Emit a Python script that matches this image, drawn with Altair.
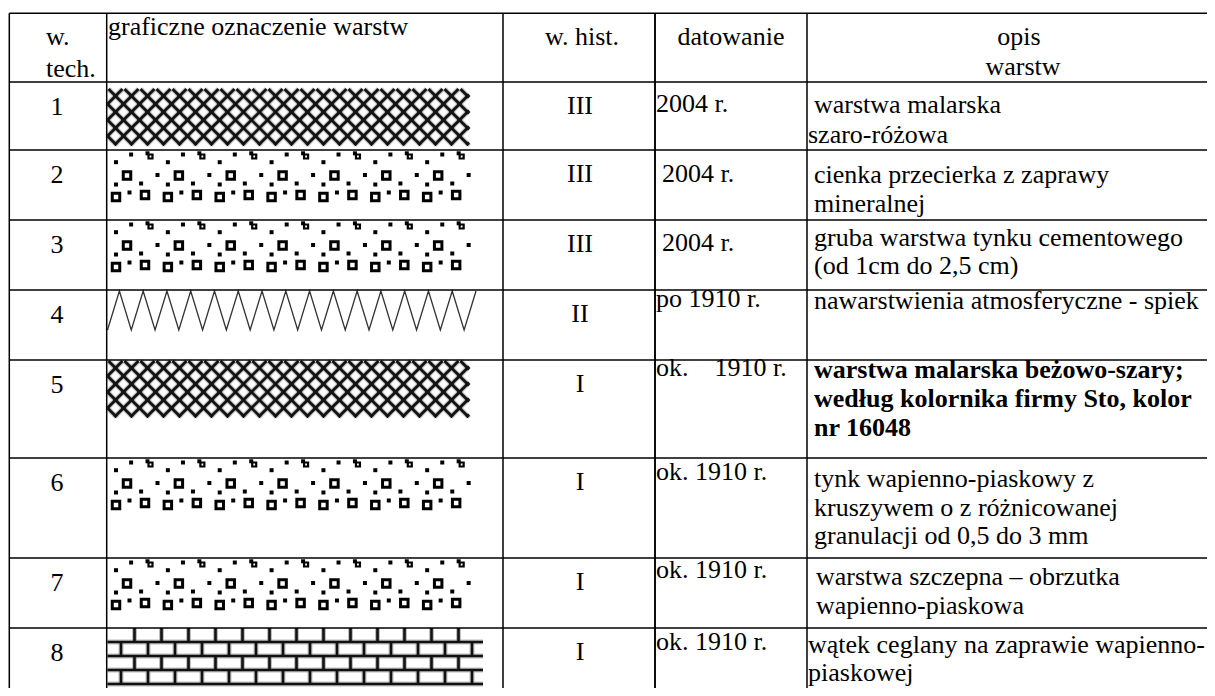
import altair as alt
import pandas as pd

# ---------------- content ----------------
header_tech = ["w.", "tech."]
header_graph = "graficzne oznaczenie warstw"
header_hist = "w. hist."
header_date = "datowanie"
header_desc = ["opis", "warstw"]

layer_no = ["1", "2", "3", "4", "5", "6", "7", "8"]
hist_period = ["III", "III", "III", "II", "I", "I", "I", "I"]
dating = ["2004 r.", "2004 r.", "2004 r.", "po 1910 r.",
          "ok.\u00a0\u00a0\u00a0 1910 r.", "ok. 1910 r.", "ok. 1910 r.", "ok. 1910 r."]
description = [
    ["warstwa malarska", "szaro-różowa"],
    ["cienka przecierka z zaprawy", "mineralnej"],
    ["gruba warstwa tynku cementowego", "(od 1cm do 2,5 cm)"],
    ["nawarstwienia atmosferyczne - spiek"],
    ["warstwa malarska beżowo-szary;", "według kolornika firmy Sto, kolor", "nr 16048"],
    ["tynk wapienno-piaskowy z", "kruszywem o z różnicowanej", "granulacji od 0,5 do 3 mm"],
    ["warstwa szczepna – obrzutka", "wapienno-piaskowa"],
    ["wątek ceglany na zaprawie wapienno-", "piaskowej"],
]
bold_rows = [4]  # zero-based index of row "5"
pattern = ["crosshatch", "pebbles", "pebbles", "zigzag",
           "crosshatch", "pebbles", "pebbles", "bricks"]

# ---------------- layout (page pixels) ----------------
X_MIN, X_MAX = 8, 1207
Y_MIN, Y_MAX = 8, 688
LEFT, C1, C2, C3, C4 = 9.3, 106.7, 503, 655, 807
TOP = 13.3
ROW_TOP = [82, 150, 220, 290, 360, 458, 558, 628]
FONT = "Liberation Serif, Times New Roman, serif"
FS = 26

NUM_X, HIST_X = 57, 580
DATE_X = [656, 662, 662, 656, 656, 656, 656, 656]
DATE_DY = [30, 32, 31, 17, 16, 22, 20, 22]
DESC_DY = [31, 33, 26, 19, 18, 29, 27, 25]
DESC_STEP = [30, 29, 28, 29, 29, 28.5, 28.5, 28]
DESC_X = [[814, 808], [814, 814], [814, 814], [814], [814, 814, 814],
          [814, 814, 814], [816, 816], [808, 808]]

# pattern boxes (x0, x1, y0, y1)
BOX = [(107.5, 469, 89, 145), (107.5, 471, 150.5, 210), (107.5, 471, 220.5, 280),
       (107.5, 476, 291, 330), (107.5, 469, 361, 417), (107.5, 471, 458.5, 518),
       (107.5, 471, 558.5, 618), (107.5, 483, 628, 684)]

xs = alt.Scale(domain=[X_MIN, X_MAX], nice=False, zero=False)
ys = alt.Scale(domain=[Y_MIN, Y_MAX], nice=False, zero=False, reverse=True)


def clip_segment(x0, y0, x1, y1, box):
    bx0, bx1, by0, by1 = box
    dx, dy = x1 - x0, y1 - y0
    t0, t1 = 0.0, 1.0
    for p, q in ((-dx, x0 - bx0), (dx, bx1 - x0), (-dy, y0 - by0), (dy, by1 - y0)):
        if p == 0:
            if q < 0:
                return None
        else:
            t = q / p
            if p < 0:
                t0 = max(t0, t)
            else:
                t1 = min(t1, t)
    if t0 >= t1:
        return None
    return (x0 + t0 * dx, y0 + t0 * dy, x0 + t1 * dx, y0 + t1 * dy)


# ---------------- table grid ----------------
rules = []
for y in [TOP] + ROW_TOP:
    rules.append(dict(x=LEFT, x2=X_MAX, y=y, y2=y, w=1.5, c="#000000"))
for x in [LEFT, C1, C2, C3, C4]:
    rules.append(dict(x=x, x2=x, y=TOP, y2=Y_MAX, w=1.9 if x == C3 else 1.5, c="#000000"))

# ---------------- patterns ----------------
soft, hard = [], []
dots, rings, smalls = [], [], []
zig = []

HATCH = 16.0
TILE = 51.86
PEBBLE_TILE = [  # (dx, dy, kind)
    (8.5, 11.7, "dot"), (23.6, 4, "dot"), (42, 5, "small"),
    (19.5, 25, "ring"), (50, 24.5, "dot"), (33.6, 33, "dot"), (8.5, 34, "dot"),
    (22, 42, "dot"), (37.5, 44.5, "ring"), (8.5, 46.5, "ring"),
]
BRICK = 27.0

for r, kind in enumerate(pattern):
    box = BOX[r]
    x0, x1, y0, y1 = box
    if kind == "crosshatch":
        cx, cy = x0 + 8, y0 + 7
        for k in range(-40, 60):
            for sgn in (1, -1):
                px = cx + HATCH * k
                seg = clip_segment(px - 200, cy - 200 * sgn, px + 200, cy + 200 * sgn, box)
                if seg:
                    d = dict(x=seg[0], y=seg[1], x2=seg[2], y2=seg[3])
                    soft.append(d)
                    hard.append(d)
    elif kind == "pebbles":
        i = 0
        while x0 + TILE * i < x1:
            for dx, dy, t in PEBBLE_TILE:
                px = x0 + TILE * i + dx
                if px > x1:
                    continue
                py = y0 + dy
                if t == "dot":
                    dots.append(dict(x=px, y=py))
                elif t == "ring":
                    rings.append(dict(x=px, y=py))
                else:
                    smalls.append(dict(x=px + 1.0, y=py + 1.0))
                    dots.append(dict(x=px - 2.0, y=py - 2.2))
            i += 1
    elif kind == "zigzag":
        n = 32
        step = (x1 - x0) / (n - 1)
        for j in range(n):
            zig.append(dict(x=x0 + step * j, y=y1 if j % 2 == 0 else y0, o=j))
    elif kind == "bricks":
        courses = 4
        h = (y1 - y0) / courses
        for c in range(1, courses + 1):
            yy = y0 + h * c
            d = dict(x=x0, y=yy, x2=x1, y2=yy)
            soft.append(d)
            hard.append(d)
        for c in range(courses):
            ya, yb = y0 + h * c, y0 + h * (c + 1)
            start = x0 + (BRICK if c % 2 == 0 else BRICK / 2)
            xx = start
            while xx < x1 - 1:
                d = dict(x=xx, y=ya, x2=xx, y2=yb)
                soft.append(d)
                hard.append(d)
                xx += BRICK

# ---------------- texts ----------------
texts = []
texts.append(dict(t=header_tech[0], x=46, y=45, a="left", b=0))
texts.append(dict(t=header_tech[1], x=46, y=76.7, a="left", b=0))
texts.append(dict(t=header_graph, x=108, y=35, a="left", b=0))
texts.append(dict(t=header_hist, x=582, y=45, a="center", b=0))
texts.append(dict(t=header_date, x=731, y=45, a="center", b=0))
texts.append(dict(t=header_desc[0], x=1019, y=45, a="center", b=0))
texts.append(dict(t=header_desc[1], x=1023, y=75, a="center", b=0))
for r in range(len(layer_no)):
    top = ROW_TOP[r]
    texts.append(dict(t=layer_no[r], x=NUM_X, y=top + 32.5, a="center", b=0))
    texts.append(dict(t=hist_period[r], x=HIST_X, y=top + 31.5, a="center", b=0))
    texts.append(dict(t=dating[r], x=DATE_X[r], y=top + DATE_DY[r], a="left", b=0))
    for i, line in enumerate(description[r]):
        texts.append(dict(t=line, x=DESC_X[r][i], y=top + DESC_DY[r] + DESC_STEP[r] * i,
                          a="left", b=1 if r in bold_rows else 0))

tdf = pd.DataFrame(texts)

X = lambda f="x": alt.X(f"{f}:Q", scale=xs, axis=None)
Y = lambda f="y": alt.Y(f"{f}:Q", scale=ys, axis=None)

grid = alt.Chart(pd.DataFrame(rules)).mark_rule().encode(
    x=X(), x2="x2:Q", y=Y(), y2="y2:Q",
    strokeWidth=alt.StrokeWidth("w:Q", scale=None),
    color=alt.Color("c:N", scale=None),
)

soft_l = alt.Chart(pd.DataFrame(soft)).mark_rule(color="#8a8a8a", strokeWidth=5.0, opacity=0.55).encode(
    x=X(), x2="x2:Q", y=Y(), y2="y2:Q")
hard_l = alt.Chart(pd.DataFrame(hard)).mark_rule(color="#111111", strokeWidth=2.6).encode(
    x=X(), x2="x2:Q", y=Y(), y2="y2:Q")

dot_l = alt.Chart(pd.DataFrame(dots)).mark_square(color="#000000", size=16, opacity=1).encode(
    x=X(), y=Y())
ring_l = alt.Chart(pd.DataFrame(rings)).mark_point(
    shape="square", filled=False, color="#000000", size=56, strokeWidth=3.0, opacity=1).encode(
    x=X(), y=Y())
small_l = alt.Chart(pd.DataFrame(smalls)).mark_point(
    shape="square", filled=False, color="#000000", size=16, strokeWidth=2.2, opacity=1).encode(
    x=X(), y=Y())
zig_l = alt.Chart(pd.DataFrame(zig)).mark_line(color="#333333", strokeWidth=1.3).encode(
    x=X(), y=Y(), order="o:Q")


def text_layer(align, bold):
    sub = tdf[(tdf["a"] == align) & (tdf["b"] == bold)]
    return alt.Chart(sub).mark_text(
        font=FONT, fontSize=FS, align=align, baseline="alphabetic",
        fontWeight="bold" if bold else "normal", color="#000000",
    ).encode(x=X(), y=Y(), text="t:N")


chart = alt.layer(
    soft_l, hard_l, zig_l, dot_l, ring_l, small_l, grid,
    text_layer("left", 0), text_layer("center", 0), text_layer("left", 1),
).properties(
    width=X_MAX - X_MIN, height=Y_MAX - Y_MIN, padding=0,
    autosize=alt.AutoSizeParams(type="none"), background="white",
).configure_view(stroke=None)

chart.save("out.html", embed_options={"renderer": "svg", "actions": False})
